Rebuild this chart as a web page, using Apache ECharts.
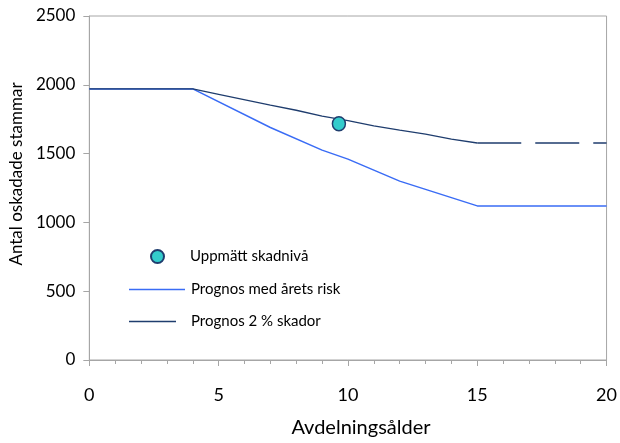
<!DOCTYPE html>
<html>
<head>
<meta charset="utf-8">
<script src="https://cdn.jsdelivr.net/npm/echarts@6/dist/echarts.min.js"></script>
<style>html,body{margin:0;padding:0;background:#fff}#c{width:620px;height:443px}</style>
</head>
<body>
<div id="c"></div>
<script>
var xTicks = [0, 5, 10, 15, 20];
var yTicks = [0, 500, 1000, 1500, 2000, 2500];
var measuredAge = [9.65];
var measuredValue = [1717];
var riskAges = [0, 4, 7, 9, 10, 12, 13, 15, 20];
var riskValues = [1970, 1970, 1690, 1525, 1460, 1300, 1240, 1120, 1120];
var twoPctAges = [0, 4, 5, 7, 8, 9, 10, 11, 12, 13, 14, 15];
var twoPctValues = [1970, 1970, 1930, 1852, 1815, 1772, 1740, 1702, 1670, 1642, 1605, 1577];
var twoPctTailAges = [15, 20];
var twoPctTailValues = [1577, 1577];

function pairs(xs, ys) { return xs.map(function (x, i) { return [x, ys[i]]; }); }

var font = 'Lato, "Open Sans", sans-serif';
var axisGray = '#A6A6A6';
var chart = echarts.init(document.getElementById('c'));
chart.setOption({
  animation: false,
  textStyle: { fontFamily: font, color: '#000' },
  grid: { left: 89, right: 8, top: 16, bottom: 79, show: true, borderColor: axisGray, borderWidth: 1 },
  xAxis: {
    type: 'value', min: xTicks[0], max: xTicks[xTicks.length - 1], interval: 5,
    name: 'Avdelningsålder', nameLocation: 'middle', nameGap: 58,
    nameTextStyle: { fontSize: 20, fontFamily: font, color: '#000', padding: [0, 0, 0, 26] },
    axisLine: { show: true, lineStyle: { color: axisGray, width: 1 } },
    axisTick: { show: true, inside: false, length: 6, lineStyle: { color: axisGray } },
    minorTick: { show: true, splitNumber: 5, length: 4, lineStyle: { color: axisGray } },
    splitLine: { show: false },
    axisLabel: { fontSize: 18, margin: 26, color: '#000', fontFamily: font }
  },
  yAxis: {
    type: 'value', min: yTicks[0], max: yTicks[yTicks.length - 1], interval: 500,
    name: 'Antal oskadade stammar', nameLocation: 'middle', nameGap: 62, nameRotate: 90,
    nameTextStyle: { fontSize: 17, fontFamily: font, color: '#000', padding: [0, 0, 0, 28] },
    axisLine: { show: true, lineStyle: { color: axisGray, width: 1 } },
    axisTick: { show: true, inside: false, length: 6, lineStyle: { color: axisGray } },
    splitLine: { show: false },
    axisLabel: { fontSize: 17, margin: 14, color: '#000', fontFamily: font,
      formatter: function (v) { return String(v); } }
  },
  legend: [
    { data: ['Uppmätt skadnivå'], left: 150, top: 249, padding: 0, icon: 'circle', itemWidth: 13, itemHeight: 13,
      textStyle: { fontSize: 15, fontFamily: font, color: '#000', padding: [0, 0, 0, 21] } },
    { data: ['Prognos med årets risk'], left: 129, top: 282, padding: 0, icon: 'rect', itemWidth: 56, itemHeight: 1.5,
      textStyle: { fontSize: 15, fontFamily: font, color: '#000', padding: [0, 0, 0, 1] } },
    { data: ['Prognos 2 % skador'], left: 129, top: 314, padding: 0, icon: 'rect', itemWidth: 47, itemHeight: 1.5,
      textStyle: { fontSize: 15, fontFamily: font, color: '#000', padding: [0, 0, 0, 10] } }
  ],
  series: [
    { name: 'Prognos med årets risk', type: 'line', data: pairs(riskAges, riskValues), symbol: 'none',
      lineStyle: { color: '#3A6CF5', width: 1.5 }, itemStyle: { color: '#3A6CF5' }, z: 2 },
    { name: 'Prognos 2 % skador', type: 'line', data: pairs(twoPctAges, twoPctValues), symbol: 'none',
      lineStyle: { color: '#1F3D6E', width: 1.3 }, itemStyle: { color: '#1F3D6E' }, z: 3 },
    { name: 'tail', type: 'line', data: pairs(twoPctTailAges, twoPctTailValues), symbol: 'none',
      lineStyle: { color: '#1F3D6E', width: 1.3, type: [44, 14] }, itemStyle: { color: '#1F3D6E' }, z: 3 },
    { name: 'Uppmätt skadnivå', type: 'scatter', data: pairs(measuredAge, measuredValue), symbol: 'circle',
      symbolSize: [13, 14], itemStyle: { color: '#33CCCC', borderColor: '#1F3D6E', borderWidth: 1.5, opacity: 1 }, z: 5 }
  ]
});
</script>
</body>
</html>
